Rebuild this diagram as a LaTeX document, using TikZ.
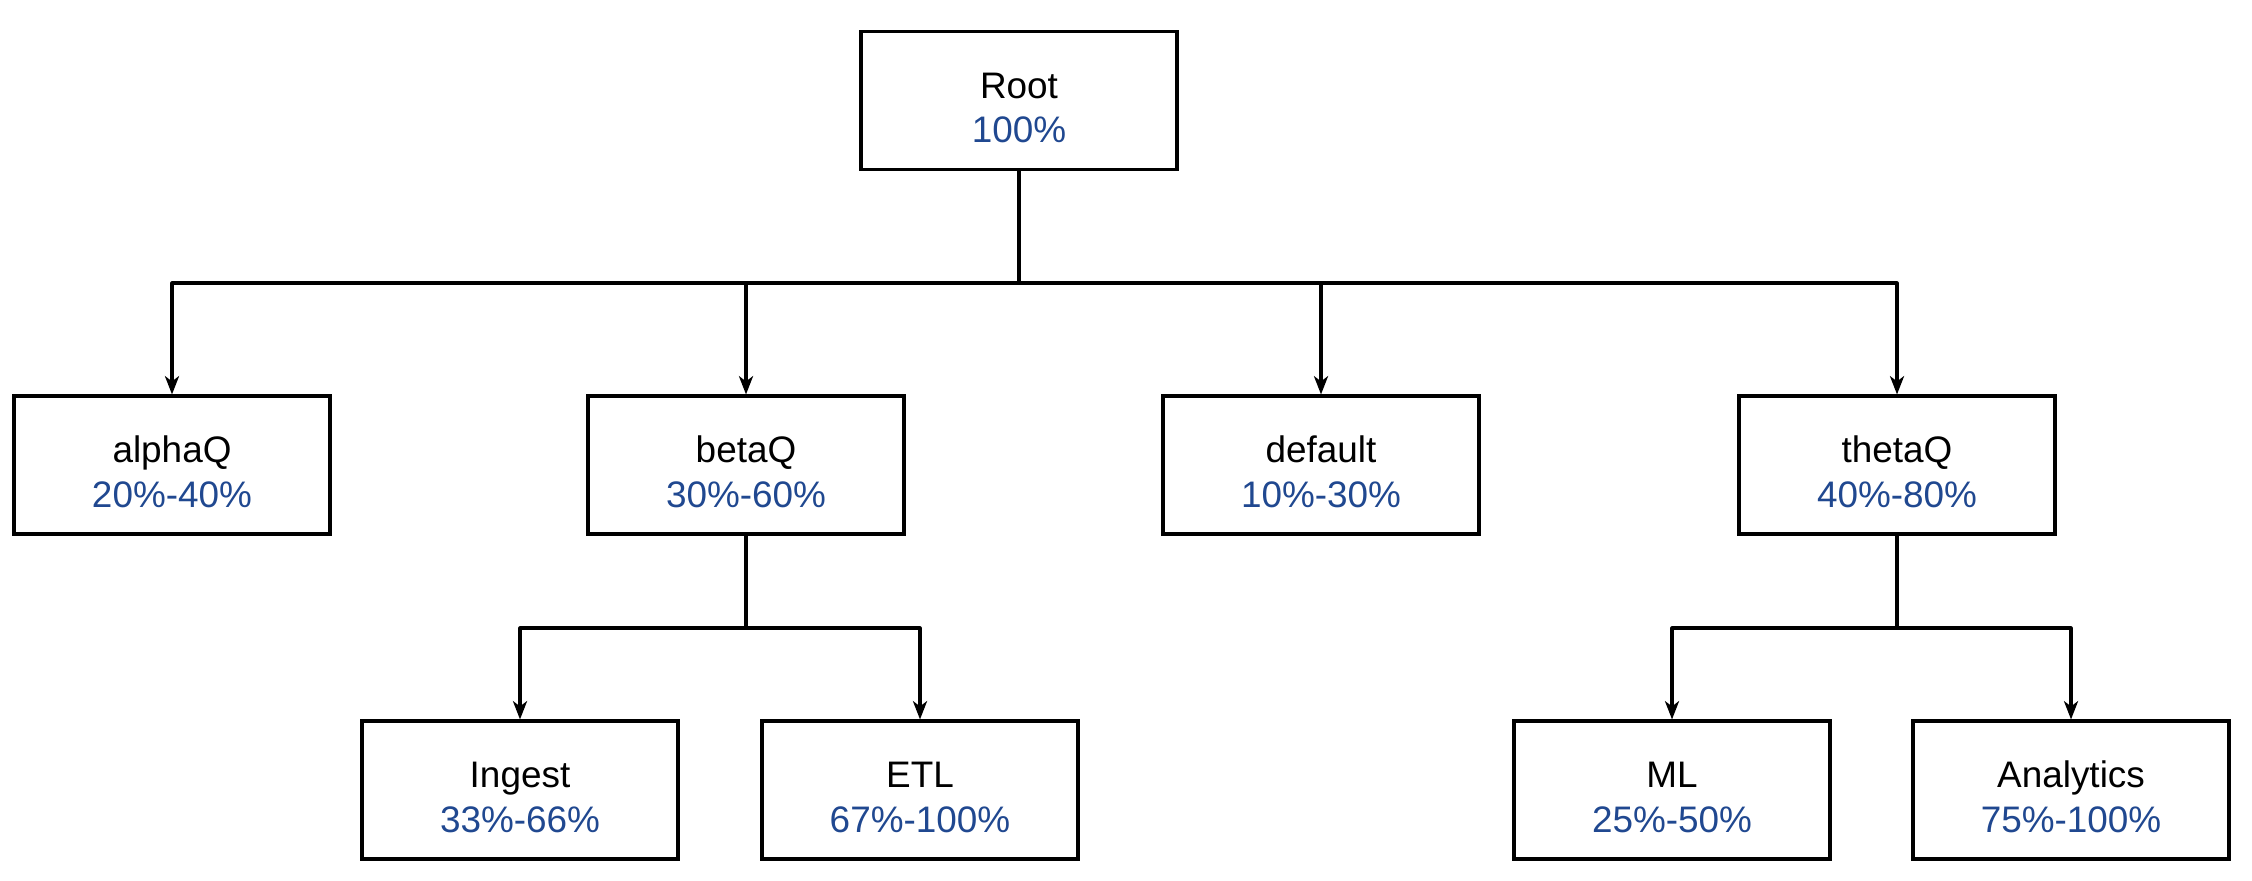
\documentclass[tikz,border=0pt]{standalone}
\usepackage{fontspec}
\setmainfont{Liberation Sans}
\usetikzlibrary{arrows.meta}
\definecolor{pct}{RGB}{32,72,144}
\definecolor{pen}{RGB}{0,0,0}
\newcommand{\qlabel}[2]{\rule{0pt}{11.5pt}#1\\\textcolor{pct}{#2}}

\begin{document}
\begin{tikzpicture}[line cap=round, line join=round,
    queue/.style={draw=pen, line width=0.9pt, line join=miter, minimum width=3.16cm,
                  minimum height=1.38cm, align=center, inner sep=0pt,
                  font=\fontsize{10.5}{12.6}\selectfont},
    wire/.style={draw=pen, line width=0.9pt},
    link/.style={wire, -{Stealth[length=5.2pt, width=4pt, inset=1.5pt]}}]

  %========= geometry parameters =========
  \def\yroot{-1.005}  % centre height of the root box
  \def\yqueue{-4.65}  % centre height of the first level
  \def\ysub{-7.90}    % centre height of the second level
  \def\ybusA{-2.83}   % first branching line
  \def\ybusB{-6.28}   % second branching line

  %========= frame =========
  \useasboundingbox (0,0) rectangle (22.52,-8.80);

  %========= queues =========
  \node[queue] (root)    at (10.19,\yroot)  {\qlabel{Root}{100\%}};
  \node[queue] (alphaQ)  at (1.72,\yqueue)  {\qlabel{alphaQ}{20\%-40\%}};
  \node[queue] (betaQ)   at (7.46,\yqueue)  {\qlabel{betaQ}{30\%-60\%}};
  \node[queue] (default) at (13.21,\yqueue) {\qlabel{default}{10\%-30\%}};
  \node[queue] (thetaQ)  at (18.97,\yqueue) {\qlabel{thetaQ}{40\%-80\%}};
  \node[queue] (ingest)    at (5.20,\ysub)  {\qlabel{Ingest}{33\%-66\%}};
  \node[queue] (etl)       at (9.20,\ysub)  {\qlabel{ETL}{67\%-100\%}};
  \node[queue] (ml)        at (16.72,\ysub) {\qlabel{ML}{25\%-50\%}};
  \node[queue] (analytics) at (20.71,\ysub) {\qlabel{Analytics}{75\%-100\%}};

  %========= branching points =========
  \coordinate (rootbus)  at (root.south |- 0,\ybusA);
  \coordinate (betabus)  at (betaQ.south |- 0,\ybusB);
  \coordinate (thetabus) at (thetaQ.south |- 0,\ybusB);

  %========= connectors =========
  \draw[wire] (root.south) -- (rootbus);
  \foreach \child in {alphaQ,betaQ,default,thetaQ}
    \draw[link] (rootbus) -| (\child.north);

  \draw[wire] (betaQ.south) -- (betabus);
  \foreach \child in {ingest,etl}
    \draw[link] (betabus) -| (\child.north);

  \draw[wire] (thetaQ.south) -- (thetabus);
  \foreach \child in {ml,analytics}
    \draw[link] (thetabus) -| (\child.north);
\end{tikzpicture}
\end{document}
